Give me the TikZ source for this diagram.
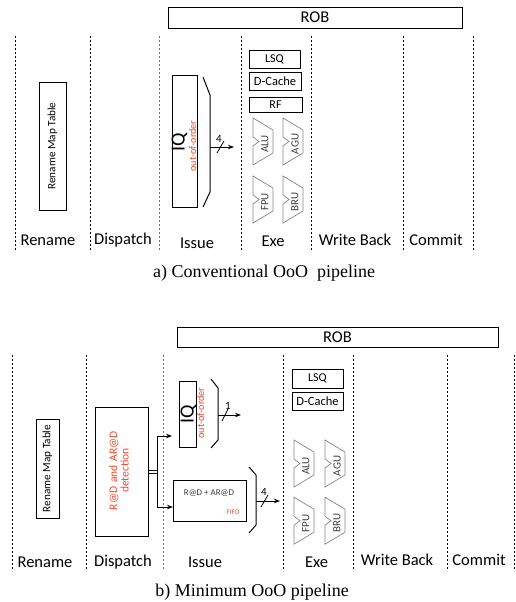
\documentclass[tikz,border=0pt]{standalone}
\usepackage{fontspec}
\setmainfont{Carlito}
\newfontfamily\capfont{Liberation Serif}
\usetikzlibrary{arrows.meta}
\definecolor{ored}{RGB}{250,70,40}
\definecolor{unitgray}{RGB}{135,135,135}
\definecolor{txtgray}{RGB}{60,60,60}
\definecolor{linegray}{RGB}{110,110,110}
\newcommand{\fsz}[1]{\fontsize{#1}{#1}\selectfont}
\begin{document}
\begin{tikzpicture}[x=1pt,y=-1pt,
  box/.style={draw, line width=0.9pt, inner sep=0pt, minimum width=#1},
  stageline/.style={dash pattern=on 2pt off 2pt, line width=0.8pt},
  stagelbl/.style={font=\fsz{16.5}},
  caplbl/.style={font=\capfont\fsz{18}},
  arr/.style={line width=0.9pt, -{Stealth[length=6pt,width=4.5pt]}},
  brk/.style={line width=1pt},
  redtxt/.style={text=ored, inner sep=0pt},
  alu/.pic={
    \draw[unitgray, line width=0.7pt] (0,0) -- (20,12) -- (20,35) -- (0,47) -- (0,28) -- (6,23.5) -- (0,19) -- cycle;
    \node[rotate=90, text=txtgray, font=\fsz{11}, inner sep=0pt] (-lbl) at (12,26) {#1};
  }]
\useasboundingbox (0,0) rectangle (516,602);

% ================= (a) =================
\node[box=294pt, minimum height=21pt, font=\fsz{16.5}] (robA) at (315,17.5) {ROB};
\foreach \x/\c in {15/black,90/black,159/linegray,241/black,311/black,403/black,473/black}
  \draw[stageline, draw=\c] (\x,36) -- (\x,250);
\node[stagelbl] (lRenA) at (48,240) {Rename};
\node[stagelbl] (lDisA) at (123,240) {Dispatch};
\node[stagelbl] (lIssA) at (197,243) {Issue};
\node[stagelbl] (lExeA) at (273,241) {Exe};
\node[stagelbl] (lWbA) at (355,240) {Write Back};
\node[stagelbl] (lComA) at (436,240) {Commit};

\node[box=27pt, minimum height=128pt] (rmtA) at (52.5,146) {};
\node[rotate=90, font=\fsz{11.2}] (rmtAt) at (rmtA.center) {Rename Map Table};

\node[box=25pt, minimum height=132pt] (iqA) at (184.5,141) {};
\node[rotate=90, font=\fsz{20}, inner sep=0pt] (iqAt) at (179.5,142.5) {IQ};
\node[rotate=90, redtxt, font=\fsz{10.2}] (iqAo) at (192.5,146) {out-of-order};
\draw[brk] (203,77) -- (210,95) -- (210,192) -- (203,207);
\coordinate (oA) at (210,147);
\coordinate (eA) at (234,147);
\draw[arr] (oA) -- (eA);
\draw[line width=0.8pt] (217,153) -- (224,141);
\node[font=\fsz{11}, inner sep=0pt] (nA) at (219,139) {4};

\node[box=51pt, minimum height=18pt, font=\fsz{12}] (lsqA) at (274.5,59) {LSQ};
\node[box=52pt, minimum height=18pt, font=\fsz{12.5}] (dcA) at (275,81) {D-Cache};
\node[box=53pt, minimum height=15pt, font=\fsz{12}] (rfA) at (275.5,104.5) {RF};
\pic (aluA) at (253,118) {alu=ALU};
\pic (aguA) at (283,118) {alu=AGU};
\pic (fpuA) at (253,176) {alu=FPU};
\pic (bruA) at (283,176) {alu=BRU};

\node[caplbl] (capA) at (264,273) {a) Conventional OoO \ pipeline};

% ================= (b) =================
\node[box=321pt, minimum height=20pt, font=\fsz{16.5}] (robB) at (337.5,337) {ROB};
\foreach \x/\c in {12/black,86/black,163/linegray,283/black,353/black,447/black,514/black}
  \draw[stageline, draw=\c] (\x,355) -- (\x,571);
\node[stagelbl] (lRenB) at (45,562) {Rename};
\node[stagelbl] (lDisB) at (123,562) {Dispatch};
\node[stagelbl] (lIssB) at (205,562) {Issue};
\node[stagelbl] (lExeB) at (316.5,562) {Exe};
\node[stagelbl] (lWbB) at (397,560) {Write Back};
\node[stagelbl] (lComB) at (479,560) {Commit};

\node[box=23pt, minimum height=99pt] (rmtB) at (47.5,468.5) {};
\node[rotate=90, font=\fsz{11.2}] (rmtBt) at (rmtB.center) {Rename Map Table};

\node[box=53pt, minimum height=129pt] (det) at (121.5,471.5) {};
\node[rotate=90, redtxt, font=\fsz{11.5}, align=center, text width=90pt] (dett) at (119,470.5) {\baselineskip=14pt R@D and AR@D\\detection};

\node[box=17pt, minimum height=66pt] (iqB) at (187.5,414) {};
\node[rotate=90, font=\fsz{20}, inner sep=0pt] (iqBt) at (188.5,414.5) {IQ};
\node[rotate=90, redtxt, font=\fsz{10.2}] (iqBo) at (200.5,413) {out-of-order};
\draw[brk] (211,379) -- (218,388) -- (218,440) -- (211,448);

\node[box=73pt, minimum height=41pt] (fifo) at (209.5,500.5) {};
\node[text=txtgray, font=\fsz{8.9}, inner sep=0pt] (fifot) at (209,493) {R@D + AR@D};
\node[redtxt, font=\fsz{7}] (fifol) at (233,512) {FIFO};
\draw[brk] (249,467) -- (256,475) -- (256,525) -- (249,533);

% bus from detection
\coordinate (jt) at (157,436);
\coordinate (jb) at (157,507);
\coordinate (j1) at (157,470);
\coordinate (j2) at (157,473);
\draw[line width=0.9pt] (det.east |- j1) -- (j1);
\draw[line width=0.9pt] (det.east |- j2) -- (j2);
\draw[line width=0.9pt] (jt) -- (jb);
\coordinate (tIQ) at (172,436);
\coordinate (tFF) at (173,507);
\draw[arr] (jt) -- (tIQ);
\draw[arr] (jb) -- (tFF);

\coordinate (oB1) at (218,415);
\coordinate (eB1) at (241,415);
\draw[arr] (oB1) -- (eB1);
\draw[line width=0.8pt] (222,421) -- (228,409);
\node[font=\fsz{11}, inner sep=0pt] (nB1) at (228,406) {1};

\coordinate (oB2) at (256,501);
\coordinate (eB2) at (280,501);
\draw[arr] (oB2) -- (eB2);
\draw[line width=0.8pt] (261,507) -- (268,495);
\node[font=\fsz{11}, inner sep=0pt] (nB2) at (264,492) {4};

\node[box=51pt, minimum height=19pt, font=\fsz{12}] (lsqB) at (317.5,378.5) {LSQ};
\node[box=51pt, minimum height=18pt, font=\fsz{12.5}] (dcB) at (317.5,401) {D-Cache};
\begin{scope}[yscale=1.1]
\pic (aluB) at (294,400) {alu=ALU};
\pic (aguB) at (325,400) {alu=AGU};
\pic (fpuB) at (294,452) {alu=FPU};
\pic (bruB) at (325,452) {alu=BRU};
\end{scope}

\node[caplbl] (capB) at (252,592) {b) Minimum OoO pipeline};
\end{tikzpicture}
\end{document}
